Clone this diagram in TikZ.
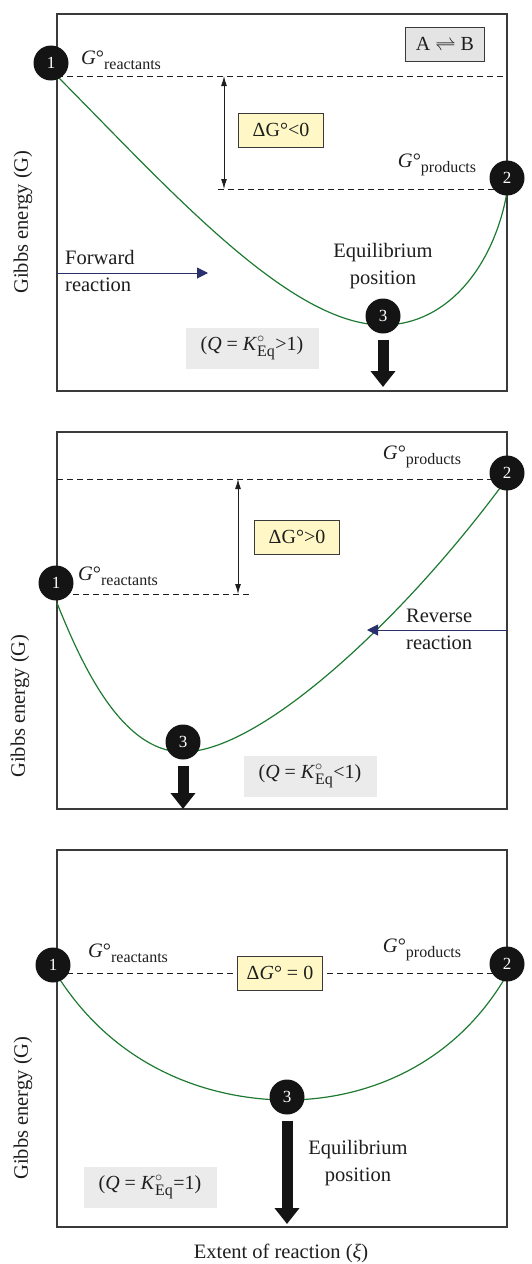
\documentclass[tikz,border=0pt]{standalone}
\usepackage{amsmath}
\usepackage{fontspec}
\setmainfont{Liberation Serif}
\usepackage{xcolor}
\usepackage{tikz}
\usetikzlibrary{positioning,arrows.meta,calc}
\definecolor{CurveGreen}{HTML}{1E7A32}
\definecolor{ArrowNavy}{HTML}{2A2F6E}
\definecolor{DeltaBg}{HTML}{FFF8C6}
\definecolor{QBg}{HTML}{EBEBEB}
\definecolor{EqBg}{HTML}{E4E4E4}
\definecolor{FrameGray}{HTML}{3A3A3A}
\definecolor{InkGray}{HTML}{1E1E1E}

\newcommand{\Gstd}[1]{\textit{G}°\raisebox{-5pt}{\fontsize{16}{16}\selectfont #1}}
\newcommand{\Keq}{\textit{K}$^{\circ}_{\text{\fontsize{16}{16}\selectfont Eq}}$}

\tikzset{
  frame/.style={draw=FrameGray, line width=1.1pt},
  txt/.style={text=InkGray, font=\fontsize{20.5}{27}\selectfont, inner sep=0pt},
  numdot/.style={circle, fill=black!92, text=white, minimum size=35pt,
                 inner sep=0pt, font=\fontsize{17}{17}\selectfont},
  gline/.style={draw=InkGray, line width=0.9pt, dash pattern=on 6pt off 4pt},
  gcurve/.style={draw=CurveGreen, line width=1.2pt},
  span/.style={draw=InkGray, line width=1pt, {Latex[length=10pt,width=6pt]}-{Latex[length=10pt,width=6pt]}},
  navyarrow/.style={draw=ArrowNavy, line width=1pt, -{Triangle[length=11pt,width=11pt]}},
  fatarrow/.style={draw=black!92, line width=11pt, shorten <=6pt,
                   -{Triangle[length=16pt,width=24pt]}},
  dgbox/.style={draw=FrameGray, line width=1pt, fill=DeltaBg, text=InkGray,
                minimum width=85pt, minimum height=34pt, inner sep=0pt,
                font=\fontsize{20}{20}\selectfont},
  qbox/.style={fill=QBg, text=InkGray, minimum width=133pt, minimum height=41pt,
               inner sep=0pt, font=\fontsize{20}{20}\selectfont},
  eqbox/.style={draw=FrameGray, line width=1pt, fill=EqBg, text=InkGray,
                minimum width=79pt, minimum height=34pt, inner sep=0pt,
                font=\fontsize{20}{20}\selectfont}
}

\begin{document}
\begin{tikzpicture}[x=1pt,y=-1pt]
\useasboundingbox (0,0) rectangle (532,1264);

% ---- panel 1: forward reaction
\draw[frame] (57,14) rectangle (507,391);
\node[eqbox] (rxn) at (445,44) {A $\rightleftharpoons$ B};
\coordinate (top1a) at (57,76);  \coordinate (top1b) at (507,76);
\coordinate (low1a) at (218,189); \coordinate (low1b) at (507,189);
\draw[gline] (top1a) -- (top1b);
\draw[gline] (low1a) -- (low1b);
\coordinate (span1a) at (224,76); \coordinate (span1b) at (224,189);
\draw[span] (span1a) -- (span1b);
\node[dgbox] (dg1) at (281,130) {ΔG°<0};
\draw[gcurve] (top1a) .. controls (170,190) and (290,325) .. (383,325)
              .. controls (450,325) and (495,262) .. (507,192);
\node[txt] (gr1) at (121,60) {\Gstd{reactants}};
\node[txt] (gp1) at (437,165) {\Gstd{products}};
\node[txt, align=left, anchor=west] (fwd) at (65,271) {Forward\\reaction};
\coordinate (fwd0) at (57,273); \coordinate (fwd1) at (208,273);
\draw[navyarrow] (fwd0) -- (fwd1);
\node[txt, align=center] (eqp1) at (383,266) {Equilibrium\\position};
\node[qbox] (q1) at (252,348) {(\textit{Q} = \Keq>1)};
\node[numdot] (a1) at (51,63) {1};
\node[numdot] (a2) at (507,178) {2};
\node[numdot] (a3) at (383,316) {3};
\coordinate (tip1) at (383,387);
\draw[fatarrow] (a3) -- (tip1);
\node[txt, rotate=90] (ylab1) at (23,222) {Gibbs energy (G)};

% ---- panel 2: reverse reaction
\draw[frame] (57,432) rectangle (507,809);
\coordinate (top2a) at (57,479);  \coordinate (top2b) at (507,479);
\coordinate (low2a) at (73,594);  \coordinate (low2b) at (251,594);
\draw[gline] (top2a) -- (top2b);
\draw[gline] (low2a) -- (low2b);
\coordinate (span2a) at (238,479); \coordinate (span2b) at (238,594);
\draw[span] (span2a) -- (span2b);
\node[dgbox] (dg2) at (297,537) {ΔG°>0};
\coordinate (c2a) at (57,603); \coordinate (c2b) at (500,488);
\draw[gcurve] (c2a) .. controls (80,660) and (120,752) .. (183,752)
              .. controls (260,752) and (400,622) .. (c2b);
\node[txt] (gp2) at (422,457) {\Gstd{products}};
\node[txt] (gr2) at (118,576) {\Gstd{reactants}};
\coordinate (rev0) at (507,630); \coordinate (rev1) at (367,630);
\draw[navyarrow] (rev0) -- (rev1);
\node[txt, align=left, anchor=west] (rev) at (406,629) {Reverse\\reaction};
\node[qbox] (q2) at (310,776) {(\textit{Q} = \Keq<1)};
\node[numdot] (b1) at (56,583) {1};
\node[numdot] (b2) at (507,473) {2};
\node[numdot] (b3) at (183,742) {3};
\coordinate (tip2) at (183,809);
\draw[fatarrow] (b3) -- (tip2);
\node[txt, rotate=90] (ylab2) at (20,706) {Gibbs energy (G)};

% ---- panel 3: equilibrium
\draw[frame] (57,850) rectangle (507,1227);
\coordinate (mid3a) at (57,973); \coordinate (mid3b) at (507,973);
\draw[gline] (mid3a) -- (mid3b);
\node[dgbox] (dg3) at (280,973) {Δ\textit{G}° = 0};
\coordinate (c3a) at (57,975); \coordinate (c3b) at (505,978);
\draw[gcurve] (c3a) .. controls (120,1075) and (220,1100) .. (287,1100)
              .. controls (360,1100) and (450,1070) .. (c3b);
\node[txt] (gr3) at (128,953) {\Gstd{reactants}};
\node[txt] (gp3) at (422,950) {\Gstd{products}};
\node[numdot] (e1) at (53,965) {1};
\node[numdot] (e2) at (507,964) {2};
\node[numdot] (e3) at (287,1097) {3};
\coordinate (tip3) at (287,1224);
\draw[fatarrow] (e3) -- (tip3);
\node[txt, align=center] (eqp3) at (358,1163) {Equilibrium\\position};
\node[qbox] (q3) at (150,1187) {(\textit{Q} = \Keq=1)};
\node[txt, rotate=90] (ylab3) at (23,1108) {Gibbs energy (G)};
\node[txt] (xlab) at (281,1253) {Extent of reaction (\textit{ξ})};
\end{tikzpicture}
\end{document}
